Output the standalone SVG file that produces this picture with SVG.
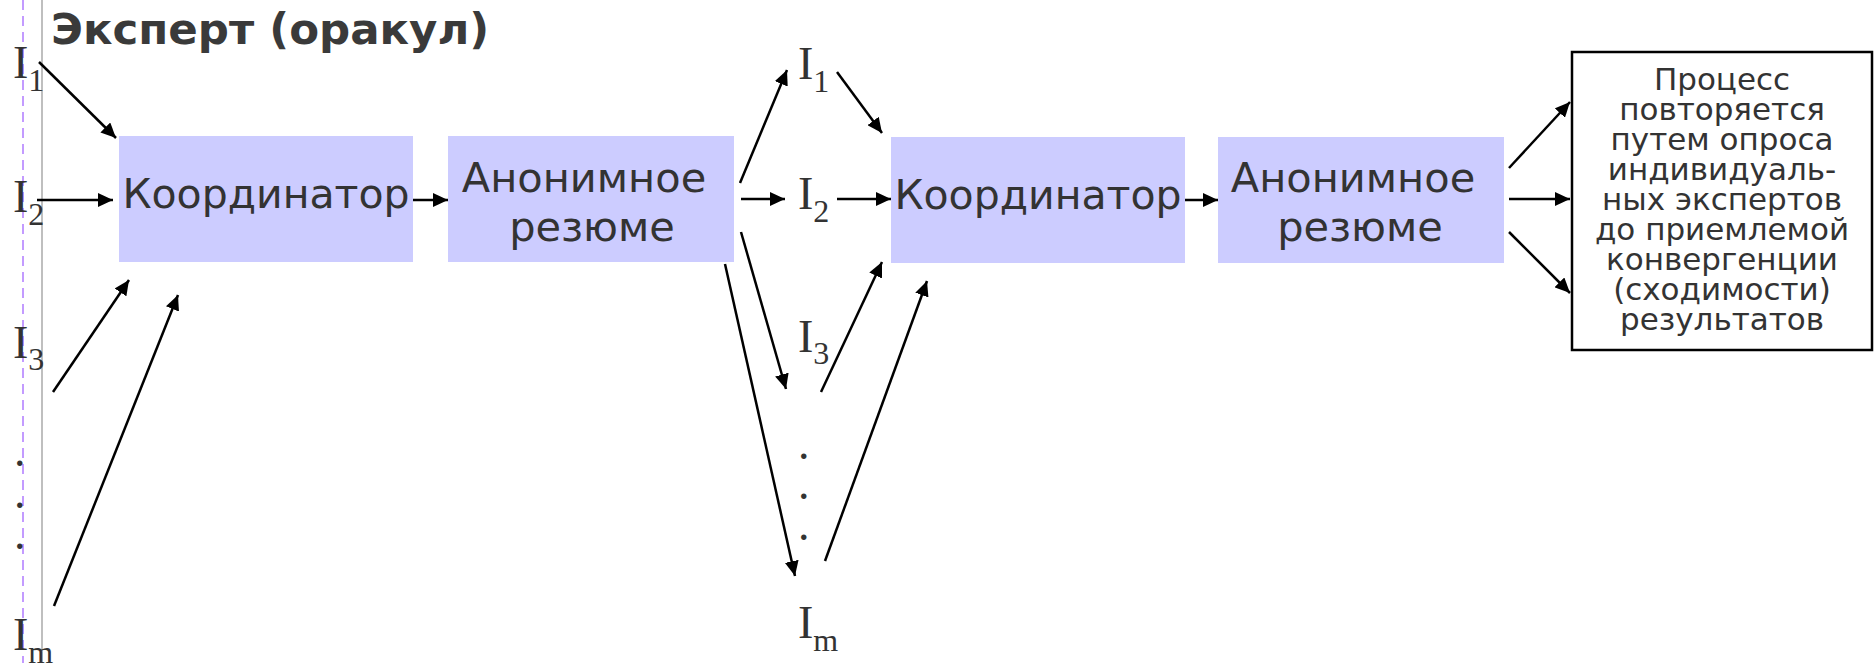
<svg xmlns="http://www.w3.org/2000/svg" width="1874" height="663" viewBox="0 0 1874 663">
  <style>
    .box { fill: #ccccff; }
    .note { fill: #ffffff; stroke: #000000; stroke-width: 2.5; }
    .lbl { font-family: "DejaVu Sans", Verdana, sans-serif; fill: #333333; text-anchor: middle; }
    .big { font-size: 41px; }
    .big2 { font-size: 41.5px; }
    .small { font-size: 31px; }
    .title { font-family: "DejaVu Sans", Verdana, sans-serif; font-weight: bold; font-size: 43.5px; fill: #3a3a3a; }
    .src { font-family: "Liberation Serif", "Times New Roman", serif; font-size: 46px; fill: #333333; }
    .sub { font-size: 32px; }
    .edge { stroke: #000000; stroke-width: 2.5; fill: none; marker-end: url(#arrow); }
  </style>
  <defs>
    <marker id="arrow" markerUnits="userSpaceOnUse" markerWidth="16" markerHeight="14" refX="15" refY="7" orient="auto">
      <path d="M0,0 L15,7 L0,14 z" fill="#000000"/>
    </marker>
  </defs>

  <rect width="1874" height="663" fill="#ffffff"/>

  <!-- slide guide lines -->
  <line x1="23" y1="0" x2="23" y2="663" stroke="#c39bff" stroke-width="2" stroke-dasharray="10,6"/>
  <line x1="42" y1="0" x2="42" y2="663" stroke="#aaaaaa" stroke-width="1.5"/>

  <text class="title" x="51" y="44">Эксперт (оракул)</text>

  <!-- first round: experts -->
  <g id="src-left">
    <text class="src" x="13" y="78">I<tspan class="sub" dy="13">1</tspan></text>
    <text class="src" x="13" y="212">I<tspan class="sub" dy="13">2</tspan></text>
    <text class="src" x="13" y="358">I<tspan class="sub" dy="12">3</tspan></text>
    <text class="src" x="14" y="466">.</text>
    <text class="src" x="14" y="508">.</text>
    <text class="src" x="14" y="549">.</text>
    <text class="src" x="13" y="650">I<tspan class="sub" dy="13">m</tspan></text>
  </g>

  <g id="coord1">
    <rect class="box" x="119" y="136" width="294" height="126"/>
    <text class="lbl big" x="266" y="208">Координатор</text>
  </g>

  <g id="summary1">
    <rect class="box" x="448" y="136" width="286" height="126"/>
    <text class="lbl big2" x="584" y="192">Анонимное</text>
    <text class="lbl big2" x="592" y="241">резюме</text>
  </g>

  <!-- second round: experts -->
  <g id="src-mid">
    <text class="src" x="798" y="79">I<tspan class="sub" dy="13">1</tspan></text>
    <text class="src" x="798" y="209">I<tspan class="sub" dy="13">2</tspan></text>
    <text class="src" x="798" y="352">I<tspan class="sub" dy="12">3</tspan></text>
    <text class="src" x="798" y="459">.</text>
    <text class="src" x="798" y="499">.</text>
    <text class="src" x="798" y="540">.</text>
    <text class="src" x="798" y="638">I<tspan class="sub" dy="13">m</tspan></text>
  </g>

  <g id="coord2">
    <rect class="box" x="891" y="137" width="294" height="126"/>
    <text class="lbl big" x="1038" y="209">Координатор</text>
  </g>

  <g id="summary2">
    <rect class="box" x="1218" y="137" width="286" height="126"/>
    <text class="lbl big2" x="1353" y="192">Анонимное</text>
    <text class="lbl big2" x="1360" y="241">резюме</text>
  </g>

  <g id="note">
    <rect class="note" x="1572" y="52" width="300" height="298"/>
    <text class="lbl small" x="1722" y="90">Процесс</text>
    <text class="lbl small" x="1722" y="120">повторяется</text>
    <text class="lbl small" x="1722" y="150">путем опроса</text>
    <text class="lbl small" x="1722" y="180">индивидуаль-</text>
    <text class="lbl small" x="1722" y="210">ных экспертов</text>
    <text class="lbl small" x="1722" y="240">до приемлемой</text>
    <text class="lbl small" x="1722" y="270">конвергенции</text>
    <text class="lbl small" x="1722" y="300">(сходимости)</text>
    <text class="lbl small" x="1722" y="330">результатов</text>
  </g>

  <g id="connectors">
    <line class="edge" x1="39" y1="62" x2="116" y2="138"/>
    <line class="edge" x1="37" y1="200" x2="113" y2="200"/>
    <line class="edge" x1="53" y1="392" x2="129" y2="280"/>
    <line class="edge" x1="54" y1="606" x2="178" y2="295"/>
    <line class="edge" x1="413" y1="200" x2="448" y2="200"/>

    <line class="edge" x1="740" y1="183" x2="787" y2="70"/>
    <line class="edge" x1="741" y1="199" x2="785" y2="199"/>
    <line class="edge" x1="741" y1="232" x2="786" y2="389"/>
    <line class="edge" x1="725" y1="264" x2="795" y2="576"/>
    <line class="edge" x1="837" y1="72" x2="882" y2="133"/>
    <line class="edge" x1="837" y1="199" x2="891" y2="199"/>
    <line class="edge" x1="821" y1="392" x2="882" y2="262"/>
    <line class="edge" x1="825" y1="561" x2="927" y2="281"/>
    <line class="edge" x1="1185" y1="200" x2="1218" y2="200"/>

    <line class="edge" x1="1509" y1="168" x2="1570" y2="102"/>
    <line class="edge" x1="1509" y1="199" x2="1570" y2="199"/>
    <line class="edge" x1="1509" y1="232" x2="1570" y2="293"/>
  </g>
</svg>
